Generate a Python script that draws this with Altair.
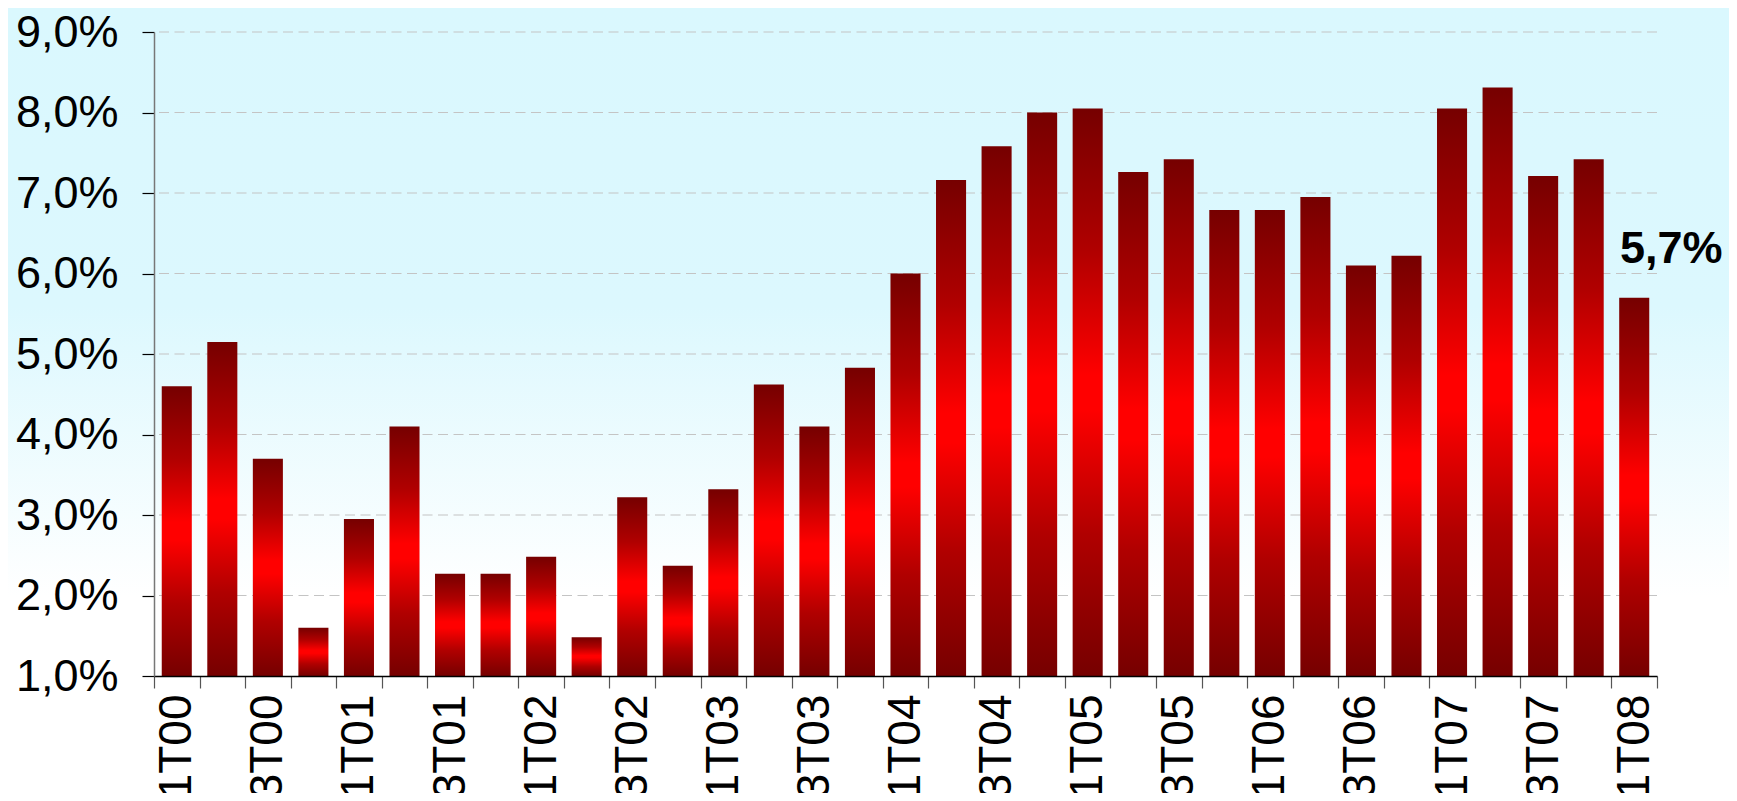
import altair as alt
import pandas as pd

# ---- data ----
quarters = ["1T00", "2T00", "3T00", "4T00",
            "1T01", "2T01", "3T01", "4T01",
            "1T02", "2T02", "3T02", "4T02",
            "1T03", "2T03", "3T03", "4T03",
            "1T04", "2T04", "3T04", "4T04",
            "1T05", "2T05", "3T05", "4T05",
            "1T06", "2T06", "3T06", "4T06",
            "1T07", "2T07", "3T07", "4T07",
            "1T08"]
values = [4.60, 5.15, 3.70, 1.60,
          2.95, 4.10, 2.27, 2.27,
          2.48, 1.48, 3.22, 2.37,
          3.32, 4.62, 4.10, 4.83,
          6.00, 7.16, 7.58, 8.00,
          8.05, 7.26, 7.42, 6.79,
          6.79, 6.95, 6.10, 6.22,
          8.05, 8.31, 7.21, 7.42,
          5.70]
y_ticks = [1, 2, 3, 4, 5, 6, 7, 8, 9]
grid_values = [2, 3, 4, 5, 6, 7, 8, 9]
annot_quarter = ["1T08"]
annot_value = [5.70]
annot_text = ["5,7%"]

W, H = 1503, 644
PAD = {"left": 146, "top": 24, "right": 72, "bottom": 117}
FONT = "Liberation Sans"

df = pd.DataFrame({"q": quarters, "v": values})
grid_df = pd.DataFrame({"g": grid_values})
annot_df = pd.DataFrame({"q": annot_quarter, "v": annot_value, "t": annot_text})

yscale = alt.Scale(domain=[1, 9], zero=False, nice=False)
xscale = alt.Scale(paddingInner=0, paddingOuter=0, round=False)

yaxis = alt.Axis(
    zindex=1,
    values=y_ticks, labelFontSize=45, labelFont=FONT, labelColor="black",
    labelPadding=24, tickSize=12, tickColor="black", tickWidth=1.2,
    domainColor="#777777", domainWidth=1.5, grid=False,
    labelExpr="replace(format(datum.value, '.1f'), '.', ',') + '%'")

xaxis = alt.Axis(
    zindex=1,
    labelAngle=-90, labelFontSize=46, labelFont=FONT,
    labelColor="black", labelPadding=6,
    labelExpr="(substring(datum.label,0,1)=='1' || substring(datum.label,0,1)=='3') ? datum.label : ''",
    tickBand="extent", tickSize=12, tickColor="#555555", tickWidth=1.2,
    domainColor="black", domainWidth=1.5, grid=False, labelOverlap=False)

bg = alt.Chart(pd.DataFrame({"a": [0]})).mark_rect(
    fill=alt.Gradient(
        gradient="linear", x1=0, x2=0, y1=0, y2=1,
        stops=[alt.GradientStop(color="#daf8fe", offset=0),
               alt.GradientStop(color="#dcf8fe", offset=0.38),
               alt.GradientStop(color="#ffffff", offset=0.75),
               alt.GradientStop(color="#ffffff", offset=1)]),
    stroke=None
).encode(
    x=alt.value(-PAD["left"]), x2=alt.value(W + PAD["right"]),
    y=alt.value(-PAD["top"]), y2=alt.value(H + PAD["bottom"])
)

grid = alt.Chart(grid_df).mark_rule(
    color="#c4c4c4", strokeWidth=1.2, strokeDash=[10, 5.5]
).encode(
    y=alt.Y("g:Q", scale=yscale, axis=yaxis, title=None)
)

bars = alt.Chart(df).mark_bar(
    width=alt.RelativeBandSize(0.66),
    color=alt.Gradient(
        gradient="linear", x1=0, x2=0, y1=0, y2=1,
        stops=[alt.GradientStop(color="#760000", offset=0),
               alt.GradientStop(color="#b00000", offset=0.25),
               alt.GradientStop(color="#ff0000", offset=0.47),
               alt.GradientStop(color="#ff0000", offset=0.53),
               alt.GradientStop(color="#b00000", offset=0.75),
               alt.GradientStop(color="#760000", offset=1)])
).encode(
    x=alt.X("q:N", sort=quarters, scale=xscale, title=None, axis=xaxis),
    y=alt.Y("v:Q", scale=yscale, title=None, axis=yaxis),
    y2=alt.datum(1)
)

annot = alt.Chart(annot_df).mark_text(
    font=FONT, fontSize=45, fontWeight="bold", color="black",
    align="center", baseline="alphabetic", dx=37, dy=-35
).encode(
    x=alt.X("q:N", sort=quarters, scale=xscale, title=None, axis=xaxis),
    y=alt.Y("v:Q", scale=yscale, title=None, axis=yaxis),
    text="t:N"
)

chart = alt.layer(bg, grid, bars, annot).properties(
    width=W, height=H,
    autosize=alt.AutoSizeParams(type="none"),
    padding=PAD,
    background="white"
).configure_view(stroke=None).configure(font=FONT)

chart.save("out.html", embed_options={"renderer": "svg", "actions": False})
